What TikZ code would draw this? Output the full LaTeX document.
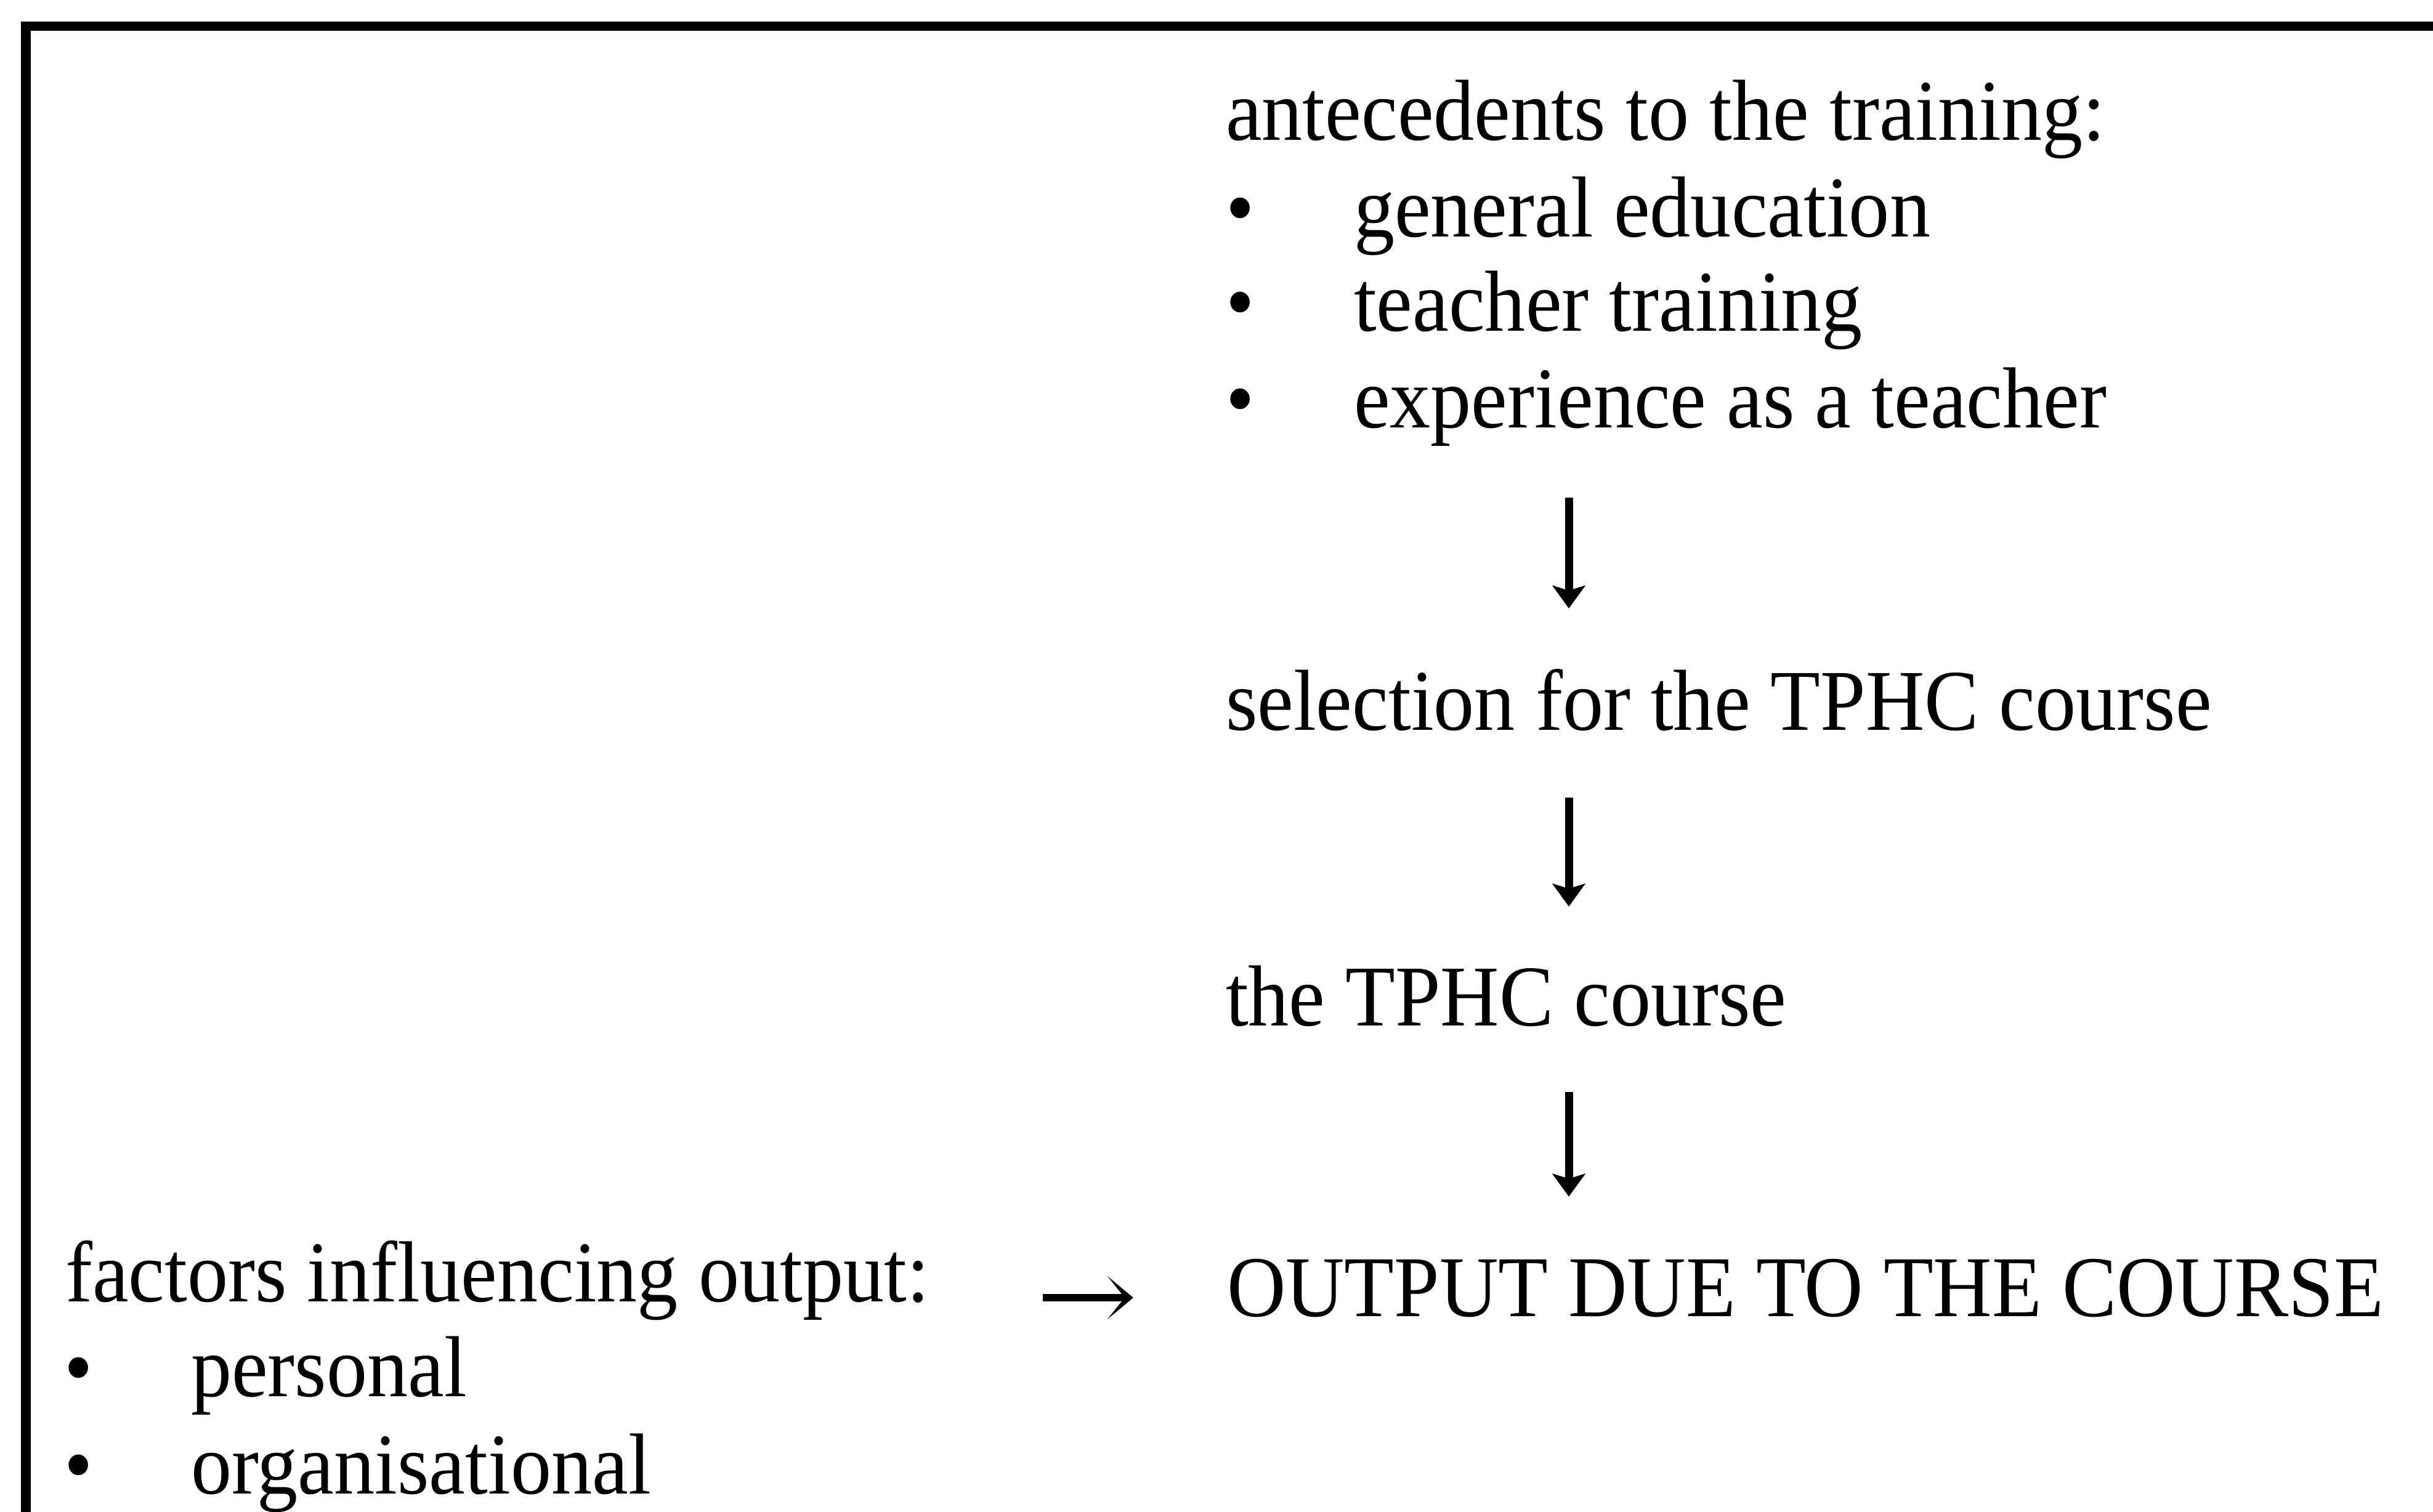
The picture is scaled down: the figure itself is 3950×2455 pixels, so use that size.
\documentclass[tikz,border=0pt]{standalone}
\usepackage{fontspec}
\setmainfont[FakeStretch=0.94]{Liberation Serif}
\usetikzlibrary{arrows.meta}
\begin{document}
\begin{tikzpicture}[x=0.01cm,y=-0.01cm,
  txt/.style={anchor=base west, inner sep=0pt, outer sep=0pt,
              font=\fontsize{40pt}{48pt}\selectfont},
  downarrow/.style={line width=0.13cm,
              -{Stealth[length=0.37cm,width=0.53cm,inset=0.08cm]}},
  rightarrow/.style={line width=0.12cm,
              -{Stealth[length=0.42cm,width=0.70cm,inset=0.28cm]}},
  frame/.style={line width=0.15cm}]
% page area
\useasboundingbox (0,0) rectangle (3950,2455);
% open frame: left and top edges
\draw[frame] (42,2455) -- (42,43) -- (3950,43);

% antecedents block
\node[txt] (ante) at (1990,228) {antecedents to the training:};
\node[txt] (b1) at (1990,385) {•};
\node[txt] (i1) at (2198,385) {general education};
\node[txt] (b2) at (1990,538) {•};
\node[txt] (i2) at (2198,538) {teacher training};
\node[txt] (b3) at (1990,695) {•};
\node[txt] (i3) at (2198,695) {experience as a teacher};

% main chain
\node[txt] (sel) at (1990,1185) {selection for the TPHC course};
\node[txt] (course) at (1990,1665) {the TPHC course};
\node[txt] (out) at (1992,2137) {OUTPUT DUE TO THE COURSE};

% influencing factors
\node[txt] (fac) at (106,2113) {factors influencing output:};
\node[txt] (b4) at (104,2267) {•};
\node[txt] (f1) at (310,2267) {personal};
\node[txt] (b5) at (104,2425) {•};
\node[txt] (f2) at (310,2425) {organisational};

% vertical axis of the down arrows
\coordinate (ax) at (2547,0);
\draw[downarrow, shorten <=1.13cm, shorten >=1.97cm] (i3.base -| ax) -- (sel.base -| ax);
\draw[downarrow, shorten <=1.10cm, shorten >=1.93cm] (sel.base -| ax) -- (course.base -| ax);
\draw[downarrow, shorten <=1.08cm, shorten >=1.94cm] (course.base -| ax) -- (out.base -| ax);

% factors feed into the output
\draw[rightarrow, shorten <=1.84cm, shorten >=1.52cm]
  ([yshift=0.06cm]fac.base east) -- ([yshift=0.06cm]fac.base east -| out.base west);
\end{tikzpicture}
\end{document}
